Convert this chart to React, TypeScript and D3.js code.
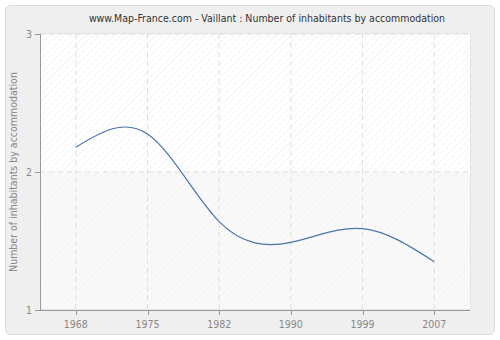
import React from "react";
import * as d3 from "d3";

const years = ["1968", "1975", "1982", "1990", "1999", "2007"];
const values = [2.18, 2.275, 1.64, 1.49, 1.59, 1.35];
const yTicks = [1, 2, 3];
const title = "www.Map-France.com - Vaillant : Number of inhabitants by accommodation";
const yTitle = "Number of inhabitants by accommodation";

export default function App() {
  const W = 500, H = 340;
  const left = 40, right = 470, top = 34, bottom = 310;
  const x = d3.scaleBand().domain(years).range([left, right]).paddingInner(0).paddingOuter(0);
  const cx = (c: string) => (x(c) as number) + x.bandwidth() / 2;
  const y = d3.scaleLinear().domain([1, 3]).range([bottom, top]);
  const line = d3.line<number>().x((_, i) => cx(years[i])).y((d) => y(d)).curve(d3.curveNatural);
  const path = line(values) || "";
  const font = "'DejaVu Sans Condensed', 'DejaVu Sans', sans-serif";
  return (
    <svg width={W} height={H} style={{ position: "absolute", left: 0, top: 0 }}>
      <defs>
        <pattern id="hatch" width="5" height="5" patternUnits="userSpaceOnUse" patternTransform="rotate(45)">
          <rect width="5" height="5" fill="#ffffff" />
          <line x1="0" y1="0" x2="0" y2="5" stroke="#ebebeb" strokeWidth="1" />
        </pattern>
        <pattern id="hatch2" width="5" height="5" patternUnits="userSpaceOnUse" patternTransform="rotate(45)">
          <rect width="5" height="5" fill="#f9f9f9" />
          <line x1="0" y1="0" x2="0" y2="5" stroke="#f0f0f0" strokeWidth="1" />
        </pattern>
      </defs>
      <rect x={5.5} y={5.5} width={489} height={329} rx={5} fill="#efefef" stroke="#dcdcdc" />
      <text x={267} y={22} textAnchor="middle" fontFamily={font} fontSize={10.5} fill="#333">{title}</text>
      <rect x={left} y={y(3)} width={right - left} height={y(2) - y(3)} fill="url(#hatch)" />
      <rect x={left} y={y(2)} width={right - left} height={y(1) - y(2)} fill="url(#hatch2)" />
      <rect x={left + 0.5} y={top - 0.5} width={right - left} height={bottom - top} fill="none" stroke="#e4e4e4" />
      {years.map((c) => (
        <line key={c} x1={cx(c)} x2={cx(c)} y1={top} y2={bottom} stroke="#dedede" strokeDasharray="5,4" />
      ))}
      {yTicks.slice(1).map((t) => (
        <line key={t} x1={left} x2={right} y1={y(t)} y2={y(t)} stroke="#dedede" strokeDasharray="5,4" />
      ))}
      <path d={path} fill="none" stroke="#4a76a8" strokeWidth={1.2} />
      <line x1={left + 0.5} x2={left + 0.5} y1={top} y2={bottom} stroke="#999" />
      <line x1={left} x2={right} y1={bottom + 0.5} y2={bottom + 0.5} stroke="#999" />
      {yTicks.map((t) => (
        <g key={t}>
          <line x1={left - 5} x2={left} y1={y(t) + 0.5} y2={y(t) + 0.5} stroke="#999" />
          <text x={left - 8} y={y(t) + 4} textAnchor="end" fontFamily={font} fontSize={10.5} fill="#888">{t}</text>
        </g>
      ))}
      {years.map((c) => (
        <g key={c}>
          <line x1={Math.round(cx(c)) + 0.5} x2={Math.round(cx(c)) + 0.5} y1={bottom} y2={bottom + 5} stroke="#999" />
          <text x={cx(c)} y={bottom + 18} textAnchor="middle" fontFamily={font} fontSize={10.5} fill="#888">{c}</text>
        </g>
      ))}
      <text transform={`translate(17,${(top + bottom) / 2}) rotate(-90)`} textAnchor="middle" fontFamily={font} fontSize={10.5} fill="#888">{yTitle}</text>
    </svg>
  );
}
